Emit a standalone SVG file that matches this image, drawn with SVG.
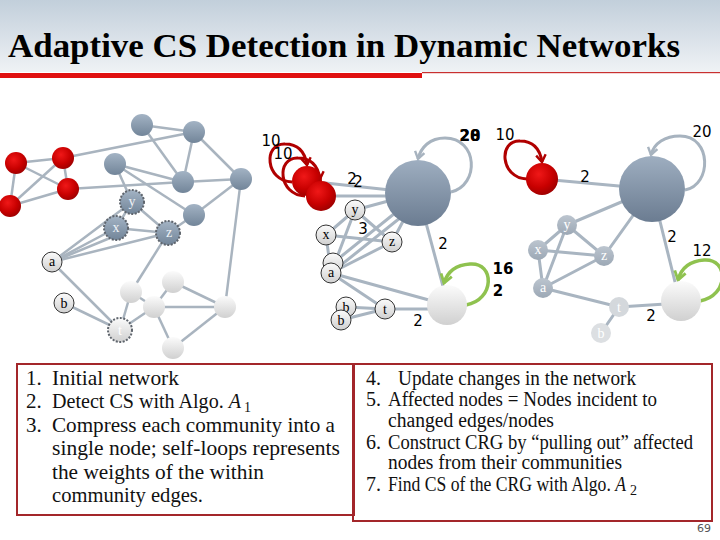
<svg xmlns="http://www.w3.org/2000/svg" width="720" height="540" viewBox="0 0 720 540">
<defs>
<linearGradient id="hdr" x1="0" y1="0" x2="0" y2="1"><stop offset="0" stop-color="#c2cfdb"/><stop offset="1" stop-color="#eff2f5"/></linearGradient>
<radialGradient id="red" cx="0.4" cy="0.35" r="0.7"><stop offset="0" stop-color="#f01818"/><stop offset="0.6" stop-color="#c80000"/><stop offset="1" stop-color="#9a0000"/></radialGradient>
<linearGradient id="blue" x1="0" y1="0" x2="0" y2="1"><stop offset="0" stop-color="#a3b3c4"/><stop offset="1" stop-color="#728599"/></linearGradient>
<linearGradient id="big" x1="0" y1="0" x2="0" y2="1"><stop offset="0" stop-color="#9eaec0"/><stop offset="1" stop-color="#6b7c91"/></linearGradient>
<linearGradient id="light" x1="0" y1="0" x2="0" y2="1"><stop offset="0" stop-color="#fbfbfb"/><stop offset="1" stop-color="#d0d0d0"/></linearGradient>
<linearGradient id="fade" x1="0" y1="0" x2="0" y2="1"><stop offset="0" stop-color="#bcc5cf"/><stop offset="1" stop-color="#9ca8b5"/></linearGradient>
<marker id="mr" viewBox="0 0 10 10" refX="7" refY="5" markerWidth="4" markerHeight="4" orient="auto"><path d="M1,1 L7,5 L1,9" fill="none" stroke="#b00000" stroke-width="2"/></marker>
<marker id="mg" viewBox="0 0 10 10" refX="7" refY="5" markerWidth="4" markerHeight="4" orient="auto"><path d="M1,1 L7,5 L1,9" fill="none" stroke="#a7b3bf" stroke-width="2"/></marker>
<marker id="mgr" viewBox="0 0 10 10" refX="7" refY="5" markerWidth="4" markerHeight="4" orient="auto"><path d="M1,1 L7,5 L1,9" fill="none" stroke="#8fc24f" stroke-width="2"/></marker>
<style>
.e{stroke:#a9b5c1;stroke-width:3;fill:none;stroke-linecap:round}
.e1{stroke:#a9b4bf;stroke-width:2.5;fill:none}
.lr{fill:none;stroke:#b00000;stroke-width:3;marker-end:url(#mr)}
.lg{fill:none;stroke:#a7b3bf;stroke-width:3;marker-end:url(#mg)}
.lgr{fill:none;stroke:#8fc24f;stroke-width:3.5;marker-end:url(#mgr)}
.lbl{font-family:"DejaVu Sans",sans-serif;font-size:15px;fill:#000;text-anchor:middle}
.b{font-weight:bold}
.nl{font-family:"Liberation Serif",serif;font-size:14px;text-anchor:middle;fill:#000}
.nw{fill:#eef2f6}
.rn{fill:url(#red)}
.gn{fill:url(#blue)}
.wn{fill:url(#light)}
.fn{fill:url(#fade)}
.sn{fill:url(#light);stroke:#333;stroke-width:1}
.dash{stroke:#5f656d;stroke-width:2;stroke-dasharray:2 1.5}
.box{fill:none;stroke:#a3262a;stroke-width:2}
.bt{font-family:"Liberation Serif",serif;font-size:21px;fill:#111}
.bt2{font-family:"Liberation Serif",serif;font-size:20px;fill:#111}
.sub{font-family:"Liberation Serif",serif;font-size:14px;fill:#111}
</style>
</defs>
<rect x="0" y="0" width="720" height="540" fill="#ffffff"/>
<rect x="0" y="0" width="720" height="72" fill="url(#hdr)"/>
<rect x="0" y="73" width="422" height="5" fill="#e01010"/>
<rect x="422" y="72" width="298" height="1.2" fill="#c83030"/>
<text x="8" y="57" font-family="Liberation Serif, serif" font-weight="bold" font-size="34" textLength="672" lengthAdjust="spacingAndGlyphs" fill="#000">Adaptive CS Detection in Dynamic Networks</text>

<g id="connectors">
<!-- panel 1 -->
<line class="e1" x1="16" y1="163" x2="63" y2="158"/>
<line class="e1" x1="16" y1="163" x2="10" y2="206"/>
<line class="e1" x1="16" y1="163" x2="68" y2="189"/>
<line class="e1" x1="63" y1="158" x2="10" y2="206"/>
<line class="e1" x1="63" y1="158" x2="68" y2="189"/>
<line class="e1" x1="68" y1="189" x2="10" y2="206"/>
<line class="e1" x1="63" y1="158" x2="194" y2="132"/>
<line class="e1" x1="68" y1="189" x2="183" y2="182"/>
<line class="e1" x1="142" y1="125" x2="194" y2="132"/>
<line class="e1" x1="142" y1="125" x2="183" y2="182"/>
<line class="e1" x1="194" y1="132" x2="183" y2="182"/>
<line class="e1" x1="194" y1="132" x2="241" y2="179"/>
<line class="e1" x1="115" y1="164" x2="183" y2="182"/>
<line class="e1" x1="115" y1="164" x2="194" y2="215"/>
<line class="e1" x1="115" y1="164" x2="132" y2="202"/>
<line class="e1" x1="183" y1="182" x2="241" y2="179"/>
<line class="e1" x1="241" y1="179" x2="194" y2="215"/>
<line class="e1" x1="241" y1="179" x2="225" y2="307"/>
<line class="e1" x1="194" y1="215" x2="168" y2="233"/>
<line class="e1" x1="132" y1="202" x2="116" y2="228"/>
<line class="e1" x1="116" y1="228" x2="168" y2="233"/>
<line class="e1" x1="132" y1="202" x2="168" y2="233"/>
<line class="e1" x1="52" y1="262" x2="132" y2="202"/>
<line class="e1" x1="52" y1="262" x2="116" y2="228"/>
<line class="e1" x1="52" y1="262" x2="110" y2="238"/>
<line class="e1" x1="52" y1="262" x2="168" y2="233"/>
<line class="e1" x1="52" y1="262" x2="120" y2="330"/>
<line class="e1" x1="64" y1="303" x2="120" y2="330"/>
<line class="e1" x1="168" y1="233" x2="131" y2="292"/>
<line class="e1" x1="131" y1="292" x2="154" y2="307"/>
<line class="e1" x1="131" y1="292" x2="120" y2="330"/>
<line class="e1" x1="154" y1="307" x2="120" y2="330"/>
<line class="e1" x1="173" y1="282" x2="154" y2="307"/>
<line class="e1" x1="173" y1="282" x2="225" y2="307"/>
<line class="e1" x1="154" y1="307" x2="225" y2="307"/>
<line class="e1" x1="154" y1="307" x2="173" y2="348"/>
<line class="e1" x1="173" y1="348" x2="225" y2="307"/>
<!-- panel 2 -->
<line class="e" x1="307" y1="181" x2="418" y2="193"/>
<line class="e" x1="321" y1="196" x2="418" y2="196"/>
<line class="e" x1="355" y1="210" x2="418" y2="193"/>
<line class="e" x1="392" y1="242" x2="418" y2="193"/>
<line class="e" x1="331" y1="273" x2="410" y2="210"/>
<line class="e" x1="333" y1="263" x2="405" y2="205"/>
<line class="e" x1="331" y1="273" x2="447" y2="305"/>
<line class="e" x1="385" y1="309" x2="447" y2="309"/>
<line class="e" x1="418" y1="193" x2="444" y2="290"/>
<line class="e" x1="355" y1="210" x2="326" y2="235"/>
<line class="e" x1="355" y1="210" x2="392" y2="242"/>
<line class="e" x1="326" y1="235" x2="392" y2="242"/>
<line class="e" x1="355" y1="210" x2="331" y2="273"/>
<line class="e" x1="326" y1="235" x2="331" y2="273"/>
<line class="e" x1="392" y1="242" x2="331" y2="273"/>
<line class="e" x1="331" y1="273" x2="385" y2="309"/>
<line class="e" x1="346" y1="307" x2="385" y2="309"/>
<line class="e" x1="341" y1="320" x2="385" y2="309"/>
<!-- panel 3 -->
<line class="e" x1="542" y1="179" x2="652" y2="189"/>
<line class="e" x1="652" y1="189" x2="567" y2="225"/>
<line class="e" x1="652" y1="189" x2="604" y2="256"/>
<line class="e" x1="652" y1="189" x2="677" y2="290"/>
<line class="e" x1="538" y1="250" x2="567" y2="225"/>
<line class="e" x1="538" y1="250" x2="604" y2="256"/>
<line class="e" x1="567" y1="225" x2="604" y2="256"/>
<line class="e" x1="567" y1="225" x2="543" y2="288"/>
<line class="e" x1="538" y1="250" x2="543" y2="288"/>
<line class="e" x1="604" y1="256" x2="543" y2="288"/>
<line class="e" x1="543" y1="288" x2="619" y2="307"/>
<line class="e" x1="619" y1="307" x2="681" y2="303"/>
<line class="e" x1="619" y1="307" x2="601" y2="333"/>
<!-- self loops -->
<path class="lr" d="M292,182 C265,181 263,143 285,144 C298,144 305,152 307,165"/>
<path class="lr" d="M305,196 C278,195 276,157 298,158 C311,158 318,166 320,179"/>
<path class="lg" d="M451,192 C480,185 478,138 445,138 C430,138 421,147 418,159"/>
<path class="lgr" d="M466,305 C495,300 495,262 470,264 C455,265 447,273 444,283"/>
<path class="lr" d="M527,179 C500,178 498,140 520,141 C533,141 540,149 542,162"/>
<path class="lg" d="M685,190 C712,185 712,136 680,136 C665,136 654,143 651,155"/>
<path class="lgr" d="M700,301 C729,296 729,258 704,260 C689,261 681,269 678,280"/>
<!-- weights -->
<text class="lbl" x="271" y="146">10</text>
<text class="lbl" x="283" y="159">10</text>
<text class="lbl" x="352" y="184">2</text>
<text class="lbl" x="358" y="187">2</text>
<text class="lbl" x="363" y="234">3</text>
<text class="lbl b" x="470" y="141">20</text>
<text class="lbl b" x="470" y="141">28</text>
<text class="lbl" x="505" y="140">10</text>
<text class="lbl" x="443" y="249">2</text>
<text class="lbl b" x="503" y="274">16</text>
<text class="lbl b" x="498" y="296">2</text>
<text class="lbl" x="418" y="326">2</text>
<text class="lbl" x="585" y="182">2</text>
<text class="lbl" x="702" y="137">20</text>
<text class="lbl" x="672" y="242">2</text>
<text class="lbl" x="702" y="256">12</text>
<text class="lbl" x="651" y="321">2</text>
</g>

<!-- panel 1 nodes -->
<g id="p1-r1"><circle class="rn" cx="16" cy="163" r="11"/></g>
<g id="p1-r2"><circle class="rn" cx="63" cy="158" r="11"/></g>
<g id="p1-r3"><circle class="rn" cx="68" cy="189" r="11"/></g>
<g id="p1-r4"><circle class="rn" cx="10" cy="206" r="11"/></g>
<g id="p1-g1"><circle class="gn" cx="142" cy="125" r="11"/></g>
<g id="p1-g2"><circle class="gn" cx="194" cy="132" r="11"/></g>
<g id="p1-g3"><circle class="gn" cx="115" cy="164" r="11"/></g>
<g id="p1-g4"><circle class="gn" cx="183" cy="182" r="11"/></g>
<g id="p1-g5"><circle class="gn" cx="241" cy="179" r="11"/></g>
<g id="p1-g6"><circle class="gn" cx="194" cy="215" r="11"/></g>
<g id="p1-y"><circle class="gn dash" cx="132" cy="202" r="12"/><text class="nl nw" x="132" y="206">y</text></g>
<g id="p1-x"><circle class="gn dash" cx="116" cy="228" r="12"/><text class="nl nw" x="116" y="232">x</text></g>
<g id="p1-z"><circle class="gn dash" cx="168" cy="233" r="12"/><text class="nl nw" x="169" y="237">z</text></g>
<g id="p1-a"><circle class="sn" cx="52" cy="262" r="10"/><text class="nl" x="52" y="266">a</text></g>
<g id="p1-b"><circle class="sn" cx="64" cy="303" r="10"/><text class="nl" x="64" y="308">b</text></g>
<g id="p1-w1"><circle class="wn" cx="131" cy="292" r="11"/></g>
<g id="p1-w2"><circle class="wn" cx="173" cy="282" r="11"/></g>
<g id="p1-w3"><circle class="wn" cx="154" cy="307" r="11"/></g>
<g id="p1-w4"><circle class="wn" cx="225" cy="307" r="11"/></g>
<g id="p1-w5"><circle class="wn" cx="173" cy="348" r="11"/></g>
<g id="p1-t"><circle class="wn dash" cx="120" cy="330" r="12"/><text class="nl" x="120" y="335" style="fill:#ffffff">t</text></g>

<!-- panel 2 nodes -->
<g id="p2-big"><circle fill="url(#big)" cx="418" cy="193" r="33"/></g>
<g id="p2-ra"><circle class="rn" cx="307" cy="181" r="15"/></g>
<g id="p2-rb"><circle class="rn" cx="321" cy="196" r="15"/></g>
<g id="p2-white"><circle class="wn" cx="447" cy="305" r="20"/></g>
<g id="p2-y"><circle class="sn" cx="355" cy="210" r="10"/><text class="nl" x="355" y="214">y</text></g>
<g id="p2-x"><circle class="sn" cx="326" cy="235" r="10"/><text class="nl" x="326" y="239">x</text></g>
<g id="p2-z"><circle class="sn" cx="392" cy="242" r="10"/><text class="nl" x="392" y="246">z</text></g>
<g id="p2-a2"><circle class="sn" cx="333" cy="263" r="10"/></g>
<g id="p2-a"><circle class="sn" cx="331" cy="273" r="10"/><text class="nl" x="331" y="277">a</text></g>
<g id="p2-b2"><circle class="sn" cx="346" cy="307" r="10"/><text class="nl" x="346" y="312">b</text></g>
<g id="p2-b"><circle class="sn" cx="341" cy="320" r="10"/><text class="nl" x="341" y="325">b</text></g>
<g id="p2-t"><circle class="sn" cx="385" cy="309" r="10"/><text class="nl" x="385" y="314">t</text></g>

<!-- panel 3 nodes -->
<g id="p3-red"><circle class="rn" cx="542" cy="179" r="16"/></g>
<g id="p3-big"><circle fill="url(#big)" cx="652" cy="189" r="33"/></g>
<g id="p3-white"><circle class="wn" cx="681" cy="301" r="20"/></g>
<g id="p3-y"><circle class="fn" cx="567" cy="225" r="10"/><text class="nl" x="567" y="229" style="fill:#fff">y</text></g>
<g id="p3-x"><circle class="fn" cx="538" cy="250" r="10"/><text class="nl" x="538" y="254" style="fill:#fff">x</text></g>
<g id="p3-z"><circle class="fn" cx="604" cy="256" r="10"/><text class="nl" x="604" y="260" style="fill:#fff">z</text></g>
<g id="p3-a"><circle class="fn" cx="543" cy="288" r="10"/><text class="nl" x="543" y="292" style="fill:#fff">a</text></g>
<g id="p3-t"><circle cx="619" cy="307" r="10" style="fill:#d4d8dc"/><text class="nl" x="619" y="312" style="fill:#fff">t</text></g>
<g id="p3-b"><circle cx="601" cy="333" r="10" style="fill:#dcdfe2"/><text class="nl" x="601" y="338" style="fill:#fff">b</text></g>

<!-- text boxes -->
<g id="box-right">
<rect class="box" x="353" y="364" width="359" height="157"/>
<text class="bt2" x="366" y="385">4.</text>
<text class="bt2" x="398" y="385" textLength="238" lengthAdjust="spacingAndGlyphs">Update changes in the network</text>
<text class="bt2" x="366" y="406">5.</text>
<text class="bt2" x="388" y="406" textLength="269" lengthAdjust="spacingAndGlyphs">Affected nodes = Nodes incident to</text>
<text class="bt2" x="388" y="427" textLength="166" lengthAdjust="spacingAndGlyphs">changed edges/nodes</text>
<text class="bt2" x="366" y="449">6.</text>
<text class="bt2" x="388" y="449" textLength="305" lengthAdjust="spacingAndGlyphs">Construct CRG by “pulling out” affected</text>
<text class="bt2" x="388" y="469" textLength="234" lengthAdjust="spacingAndGlyphs">nodes from their communities</text>
<text class="bt2" x="366" y="491">7.</text>
<text class="bt2" x="388" y="491" textLength="238" lengthAdjust="spacingAndGlyphs">Find CS of the CRG with Algo. <tspan font-style="italic">A</tspan></text>
<text class="sub" x="630" y="495">2</text>
</g>
<g id="box-left">
<rect class="box" x="17" y="364" width="337" height="151"/>
<text class="bt" x="26" y="385">1.</text>
<text class="bt" x="52" y="385" textLength="127" lengthAdjust="spacingAndGlyphs">Initial network</text>
<text class="bt" x="26" y="408">2.</text>
<text class="bt" x="52" y="408" textLength="189" lengthAdjust="spacingAndGlyphs">Detect CS with Algo. <tspan font-style="italic">A</tspan></text>
<text class="sub" x="244" y="412">1</text>
<text class="bt" x="26" y="432">3.</text>
<text class="bt" x="52" y="432" textLength="283" lengthAdjust="spacingAndGlyphs">Compress each community into a</text>
<text class="bt" x="52" y="455" textLength="288" lengthAdjust="spacingAndGlyphs">single node;  self-loops represents</text>
<text class="bt" x="52" y="479" textLength="212" lengthAdjust="spacingAndGlyphs">the weights of the within</text>
<text class="bt" x="52" y="502" textLength="151" lengthAdjust="spacingAndGlyphs">community edges.</text>
</g>
<text x="704" y="532" font-family="DejaVu Sans, sans-serif" font-size="11" fill="#555" text-anchor="middle">69</text>
</svg>
